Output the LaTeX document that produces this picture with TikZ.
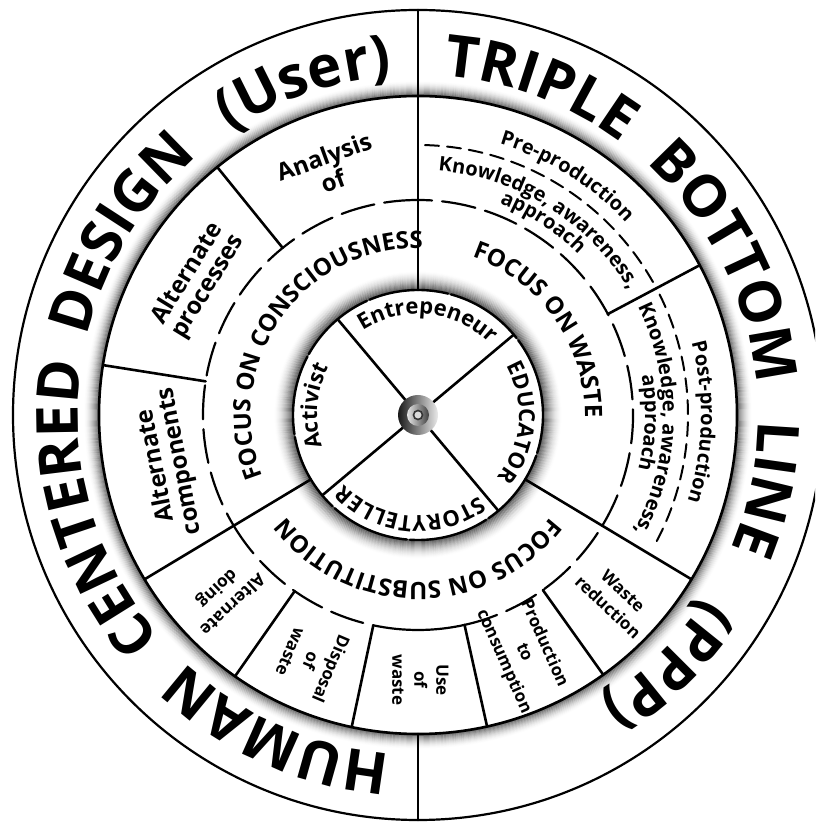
\documentclass[tikz,border=0pt]{standalone}
\usepackage{fontspec}
\setmainfont{Open Sans}
\usetikzlibrary{decorations.text}

\newcommand{\ringfont}{\bfseries\fontsize{29}{31}\selectfont}
\newcommand{\focusfont}{\bfseries\fontsize{12}{13}\selectfont}
\newcommand{\rolefont}{\bfseries\fontsize{11}{12}\selectfont}
\newcommand{\boxfont}{\bfseries\fontsize{12}{12}\selectfont}
\newcommand{\wastefont}{\bfseries\fontsize{10}{11}\selectfont}
\newcommand{\subfont}{\bfseries\fontsize{8.5}{11}\selectfont}

% text on a clockwise arc: radius, centre angle, half span, text
\newcommand{\arctext}[4]{%
  \path[decorate,decoration={text along path,text align=center,text={#4}}]
    ({#2+#3}:#1) arc[start angle={#2+#3},end angle={#2-#3},radius=#1];}

\begin{document}
\begin{tikzpicture}[x=0.5pt,y=0.5pt,line cap=round,
  longdash/.style={line width=1.1pt,dash pattern=on 17pt off 5pt},
  shortdash/.style={line width=1pt,dash pattern=on 7pt off 4pt},
  boxlabel/.style={font=\boxfont,align=center},
  sublabel/.style={font=\subfont,align=center}]

% ---- radii ----
\def\rOut{405}
\def\rRing{319}
\def\rDash{270}
\def\rMid{215}
\def\rIn{125}
\def\rHub{20}

\useasboundingbox (-418,-408) rectangle (397,415);
\clip (-418,-408) rectangle (397,415);

% ---- shadows ----
\foreach \i [evaluate=\i as \op using {0.5*(1-\i/16)^2}] in {0,...,15}
  \draw[black,opacity=\op,line width=0.7pt] (0,0) circle[radius={\rRing+\i}];
\foreach \i [evaluate=\i as \op using {0.55*(1-\i/20)^2}] in {0,...,19}
  \draw[black,opacity=\op,line width=0.7pt] (0,0) circle[radius={\rIn+\i}];

% ---- circles ----
\draw[line width=1.1pt] (0,0) circle[radius=\rOut];
\draw[line width=1.3pt] (0,0) circle[radius=\rRing];
\draw[line width=1.2pt,dash pattern=on 40pt off 1.5pt] (0,0) circle[radius=\rIn];

% ---- dashed arcs ----
\draw[longdash] (90:\rMid) arc[start angle=90,end angle=211,radius=\rMid];
\draw[longdash] (-31:\rMid) arc[start angle=-31,end angle=90,radius=\rMid];
\draw[longdash] (211:\rMid) arc[start angle=211,end angle=258,radius=\rMid];
\draw[line width=1.1pt] (258:\rMid) arc[start angle=258,end angle=282.5,radius=\rMid];
\draw[longdash] (282.5:\rMid) arc[start angle=282.5,end angle=329,radius=\rMid];
\draw[shortdash] (88.5:\rDash) arc[start angle=88.5,end angle=29.5,radius=\rDash];
\draw[shortdash] (26.5:\rDash) arc[start angle=26.5,end angle=-28.5,radius=\rDash];

% ---- radial lines ----
\foreach \a in {90,211,329}
  \draw[line width=1.3pt] (\a:\rIn) -- (\a:\rRing);
\foreach \a in {90,270}
  \draw[line width=1.3pt] (\a:\rRing) -- (\a:\rOut);
\foreach \a in {129,171,28,235,258,282.5,305.5}
  \draw[line width=1.3pt] (\a:\rMid) -- (\a:\rRing);
\foreach \a in {40,130,220,310}
  \draw[line width=1.3pt] (\a:\rHub) -- (\a:\rIn);

% ---- hub ----
\shade[left color=black!90,right color=black!8] (0,0) circle[radius=\rHub];
\shade[left color=black!10,right color=black!75] (0,0) circle[radius=11];
\filldraw[fill=black!15,draw=black!80,line width=0.8pt] (0,0) circle[radius=4.5];

% ---- outer ring ----
\arctext{340}{246}{60}{|\ringfont|HUMAN}
\arctext{340}{196}{60}{|\ringfont|CENTERED}
\arctext{340}{148.5}{60}{|\ringfont|DESIGN}
\arctext{340}{109}{60}{|\ringfont|(User)}
\arctext{340}{69.5}{60}{|\ringfont|TRIPLE}
\arctext{340}{26.5}{60}{|\ringfont|BOTTOM}
\arctext{340}{-12}{60}{|\ringfont|LINE}
\arctext{340}{-45}{60}{|\ringfont|(PPP)}

% ---- focus band ----
\arctext{167}{145}{85}{|\focusfont|FOCUS ON CONSCIOUSNESS}
\arctext{167}{35}{85}{|\focusfont|FOCUS ON WASTE}
\arctext{167}{-90}{85}{|\focusfont|FOCUS ON SUBSTITUTION}

% ---- roles ----
\arctext{101}{84}{70}{|\rolefont|Entrepeneur}
\arctext{101}{-4.5}{70}{|\rolefont|EDUCATOR}
\arctext{101}{265}{70}{|\rolefont|STORYTELLER}
\arctext{101}{175}{70}{|\rolefont|Activist}

% ---- waste boxes ----
\arctext{283}{58}{60}{|\wastefont|Pre-production}
\arctext{245}{58}{60}{|\wastefont|Knowledge, awareness,}
\arctext{227}{57}{40}{|\wastefont|approach}
\arctext{283}{-1.5}{60}{|\wastefont|Post-production}
\arctext{245}{-1}{60}{|\wastefont|Knowledge, awareness,}
\arctext{227}{-2}{40}{|\wastefont|approach}

% ---- consciousness boxes ----
\node[boxlabel,rotate=20] (analysis) at (110:262) {Analysis\\of};
\node[boxlabel,rotate=58.5] (processes) at (148.5:258) {Alternate\\processes};
\node[boxlabel,rotate=101] (components) at (191:254) {Alternate\\components};

% ---- substitution boxes ----
\node[sublabel,rotate=223] (doing) at (223:265) {Alternate\\doing};
\node[sublabel,rotate=247] (disposal) at (246.5:268) {Disposal\\of\\waste};
\node[sublabel,rotate=270] (use) at (270.5:265) {Use\\of\\waste};
\node[sublabel,rotate=294] (production) at (294:260) {Production\\to\\consumption};
\node[sublabel,rotate=317] (reduction) at (317:270) {Waste\\reduction};

\end{tikzpicture}
\end{document}
